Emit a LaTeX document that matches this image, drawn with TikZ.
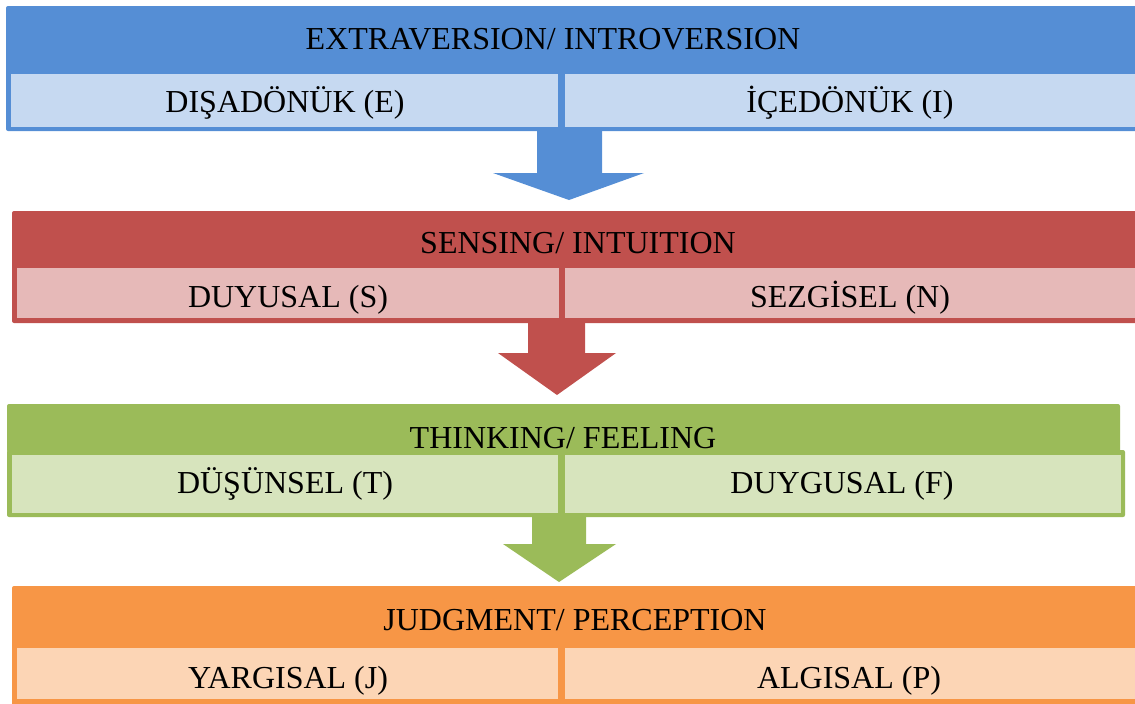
\documentclass[tikz,border=0pt]{standalone}
\usepackage{fontspec}
\setmainfont{Liberation Serif}

\definecolor{eidark}{HTML}{558ED5}
\definecolor{eilight}{HTML}{C6D9F1}
\definecolor{sndark}{HTML}{C0504D}
\definecolor{snlight}{HTML}{E6B9B8}
\definecolor{tfdark}{HTML}{9BBB59}
\definecolor{tflight}{HTML}{D7E4BD}
\definecolor{jpdark}{HTML}{F79646}
\definecolor{jplight}{HTML}{FCD5B5}

\begin{document}
\begin{tikzpicture}[x=0.5pt, y=-0.5pt,
    label/.style={anchor=base, inner sep=0pt, font=\fontsize{16}{19}\selectfont},
    band/.style={rounded corners=1pt}]

    \useasboundingbox (0,0) rectangle (1135,703);
    \clip (0,0) rectangle (1135,703);

    \fill[eidark, band] (6,6) rectangle (1145,131);
    \fill[eilight] (11,74) rectangle (558,127);
    \fill[eilight] (565,74) rectangle (1145,127);
    \node[label] (EI) at (553,49) {EXTRAVERSION/ INTROVERSION};
    \node[label] (E) at (285,112) {DIŞADÖNÜK (E)};
    \node[label] (I) at (850,112) {İÇEDÖNÜK (I)};
    \coordinate (EIout) at (569,131);
    \fill[eidark, shift={(EIout)}] (-32,0) -- (-32,42) -- (-76,42) -- (0,69)
        -- (75,42) -- (33,42) -- (33,0) -- cycle;

    \fill[sndark, band] (12,211) rectangle (1145,323);
    \fill[snlight] (17,268) rectangle (559,318);
    \fill[snlight] (565,268) rectangle (1145,318);
    \node[label] (SN) at (578,253) {SENSING/ INTUITION};
    \node[label] (S) at (288,307) {DUYUSAL (S)};
    \node[label] (N) at (850,307) {SEZGİSEL (N)};
    \coordinate (SNout) at (557,323);
    \fill[sndark, shift={(SNout)}] (-29,0) -- (-29,30) -- (-59,30) -- (0,72)
        -- (59,30) -- (28,30) -- (28,0) -- cycle;

    \fill[tfdark, band] (7,404) rectangle (1120,452);
    \fill[tfdark, band] (7,450) rectangle (1125,517);
    \fill[tflight] (12,455) rectangle (558,513);
    \fill[tflight] (565,455) rectangle (1121,513);
    \node[label] (TF) at (563,448) {THINKING/ FEELING};
    \node[label] (T) at (285,493) {DÜŞÜNSEL (T)};
    \node[label] (F) at (842,493) {DUYGUSAL (F)};
    \coordinate (TFout) at (559,517);
    \fill[tfdark, shift={(TFout)}] (-27,0) -- (-27,27) -- (-56,27) -- (0,65)
        -- (57,27) -- (27,27) -- (27,0) -- cycle;

    \fill[jpdark, band] (12,586) rectangle (1145,713);
    \fill[jplight] (17,648) rectangle (558,699);
    \fill[jplight] (565,648) rectangle (1145,699);
    \node[label] (JP) at (575,630) {JUDGMENT/ PERCEPTION};
    \node[label] (J) at (288,688) {YARGISAL (J)};
    \node[label] (P) at (849,688) {ALGISAL (P)};
\end{tikzpicture}
\end{document}
